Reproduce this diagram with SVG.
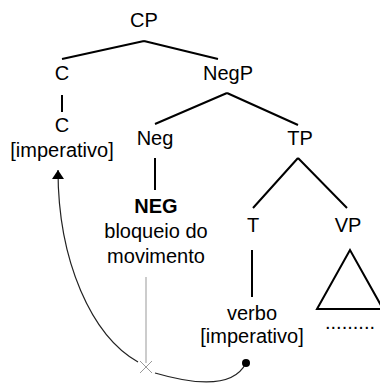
<svg xmlns="http://www.w3.org/2000/svg" width="380" height="385" viewBox="0 0 380 385">
<defs>
<style>
text{font-family:"Liberation Sans",Arial,sans-serif;font-size:20px;fill:#000;text-anchor:middle}
.b{font-weight:bold}
.e{stroke:#000;stroke-width:2;fill:none}
.g{stroke:#999;stroke-width:1;fill:none}
.c{stroke:#222;stroke-width:1.2;fill:none}
</style>
<marker id="ah" markerWidth="10" markerHeight="12" refX="9" refY="6" orient="auto" markerUnits="userSpaceOnUse">
<path d="M0,0 L9,6 L0,12 Z" fill="#000"/>
</marker>
</defs>
<g id="connectors">
<path class="e" d="M144,41 L62,59 M144,41 L218,59"/>
<path class="e" d="M62,95 L62,112"/>
<path class="e" d="M227,93 L155,124 M227,93 L298,125"/>
<path class="e" d="M155,158 L155,190"/>
<path class="e" d="M298,158 L253,208 M298,158 L347,208"/>
<path class="e" d="M252,250 L252,297"/>
<path class="g" d="M146,277 L146,363"/>
<path class="g" d="M140,361 L152,373 M152,361 L140,373"/>
<path class="c" d="M138,362 C92,336 58,262 58,170" marker-end="url(#ah)"/>
<path class="c" d="M155,373 Q230,395 246,363"/>
<circle cx="246" cy="363" r="4" fill="#000"/>
</g>
<g id="CP"><text x="144" y="27">CP</text></g>
<g id="C1"><text x="62" y="80">C</text></g>
<g id="NegP"><text x="228" y="80">NegP</text></g>
<g id="C2"><text x="62" y="132">C</text><text x="62" y="157">[imperativo]</text></g>
<g id="Neg"><text x="155" y="145">Neg</text></g>
<g id="TP"><text x="300" y="145">TP</text></g>
<g id="NEG"><text class="b" x="156" y="213">NEG</text><text x="156" y="238">bloqueio do</text><text x="156" y="263">movimento</text></g>
<g id="T"><text x="253" y="232">T</text></g>
<g id="VP"><text x="348" y="232">VP</text></g>
<g id="verbo"><text x="252" y="320">verbo</text><text x="252" y="343">[imperativo]</text></g>
<g id="triangle"><path class="e" d="M350,250 L317,309 L383,309 Z"/><text x="350" y="329">.........</text></g>
</svg>
